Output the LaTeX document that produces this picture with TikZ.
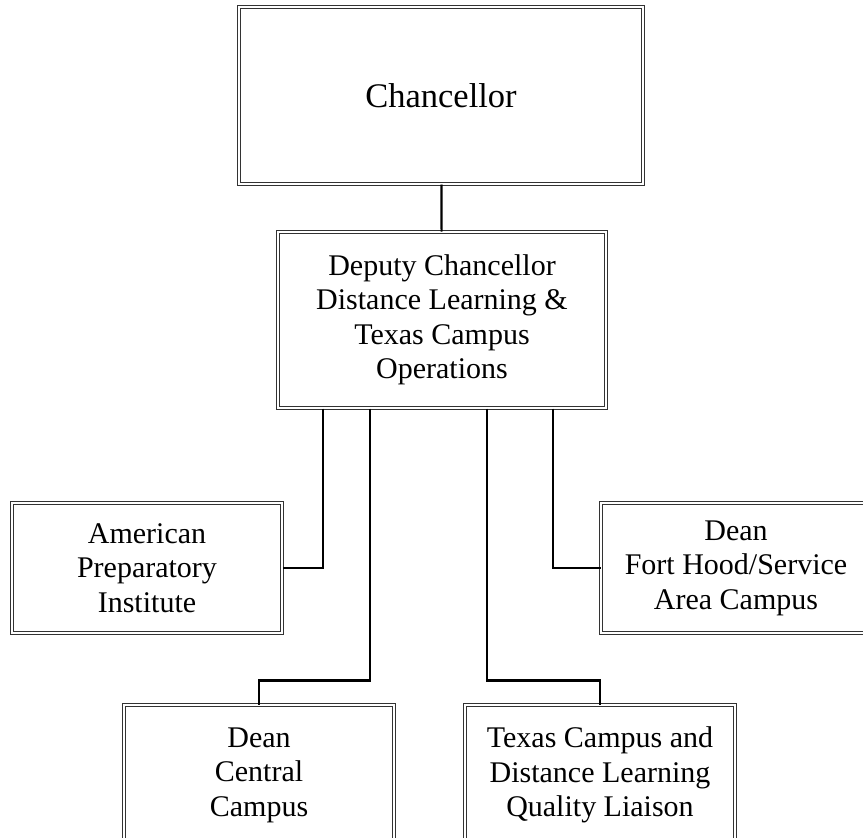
\documentclass[tikz,border=0pt]{standalone}
\usepackage{fontspec}
\setmainfont{Liberation Serif}
\usepackage{tikz}
\usetikzlibrary{positioning, calc}
\tikzstyle{orgbox} = [
  rectangle, draw=black!80, double=white, double distance=2pt,
  line width=1pt, align=center, inner sep=0pt,
  minimum width=270pt, minimum height=130pt,
  font=\fontsize{30}{34.5}\selectfont
]
\tikzstyle{topbox} = [orgbox, minimum width=404pt, minimum height=177pt,
  font=\fontsize{34.5}{38}\selectfont]
\tikzstyle{link} = [line width=2.2pt, black]

\begin{document}
\begin{tikzpicture}[x=1pt, y=-1pt]

  \useasboundingbox (0,0) rectangle (863,838);
  \clip (0,0) rectangle (863,838);

  \node[topbox] (chancellor) at (441, 95.5) {Chancellor};

  \node[orgbox, minimum width=328pt, minimum height=176pt] (deputy) at (442, 320) {
    Deputy Chancellor\\
    Distance Learning \&\\
    Texas Campus\\
    Operations
  };

  \node[orgbox] (api) at (147, 568) {
    American\\
    Preparatory\\
    Institute
  };

  \node[orgbox] (forthood) at (736, 568) {
    Dean\\
    Fort Hood/Service\\
    Area Campus
  };

  \node[orgbox, minimum height=140pt] (central) at (259, 775) {
    Dean\\
    Central\\
    Campus
  };

  \node[orgbox, minimum height=140pt] (quality) at (600, 775) {
    Texas Campus and\\
    Distance Learning\\
    Quality Liaison
  };

  \draw[link] (chancellor) -- (deputy);
  \draw[link] ([xshift=-119pt]deputy.south) |- (api.east);
  \draw[link] ([xshift=-72pt]deputy.south) -- ++(0,272) -| (central.north);
  \draw[link] ([xshift=45pt]deputy.south) -- ++(0,272) -| (quality.north);
  \draw[link] ([xshift=111pt]deputy.south) |- (forthood.west);

\end{tikzpicture}
\end{document}
